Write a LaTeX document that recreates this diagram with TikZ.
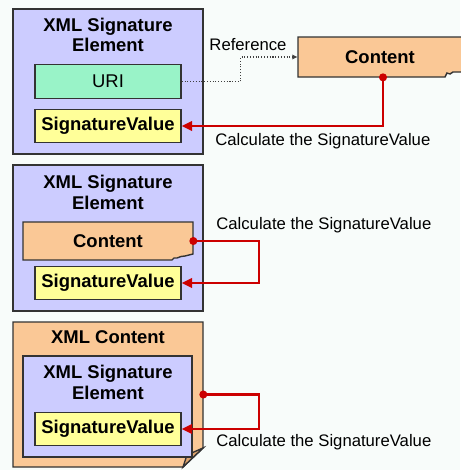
\documentclass[tikz,border=0pt]{standalone}
\usepackage{fontspec}
\setmainfont{Liberation Sans}
\usepackage{tikz}
\usetikzlibrary{arrows.meta, calc}
\definecolor{bgwhite}{RGB}{248,252,250}
\definecolor{sigblue}{RGB}{204,204,255}
\definecolor{urigreen}{RGB}{153,243,200}
\definecolor{svyellow}{RGB}{255,255,153}
\definecolor{contorange}{RGB}{250,200,150}
\definecolor{foldorange}{RGB}{222,165,110}
\definecolor{calcred}{RGB}{204,0,0}

\begin{document}
\begin{tikzpicture}[
  x=0.02cm, y=-0.02cm,
  panel/.style  = {draw=black!80, fill=sigblue, line width=0.8pt,
                   minimum width=3.8cm, minimum height=2.9cm, inner sep=0pt},
  box/.style    = {draw=black!80, line width=0.8pt, minimum width=2.92cm,
                   minimum height=0.67cm, inner sep=0pt,
                   font=\fontsize{10.5}{12}\selectfont},
  svbox/.style  = {box, fill=svyellow, font=\fontsize{10.5}{12}\selectfont\bfseries},
  ttl/.style    = {font=\fontsize{10.5}{11.5}\selectfont\bfseries, align=center,
                   inner sep=0pt},
  note/.style   = {font=\fontsize{9.5}{11}\selectfont, anchor=west, inner sep=0pt},
  sigarr/.style = {draw=calcred, line width=1.2pt,
                   -{Triangle[length=6pt,width=5.5pt]}},
  dot/.style    = {fill=calcred},
  ref/.style    = {densely dotted, draw=black!75, line width=0.6pt,
                   -{Latex[length=3pt,width=3pt]}},
  paper/.style  = {draw=black!80, fill=contorange, line width=0.8pt}
]
\fill[bgwhite] (0,0) rectangle (460,470);
\useasboundingbox (0,0) rectangle (460,470);

% panel 1: detached
\node[panel] (sig1) at (108,81.5) {};
\node[ttl] (t1) at (108,35) {XML Signature\\Element};
\node[box, fill=urigreen] (uri) at (108,81.5) {URI};
\node[svbox] (sv1) at (108,126) {SignatureValue};
\draw[paper] (298,37) -- (470,37) -- (470,72) -- (453,72) -- (450,74)
  -- (447,73) -- (445,77) -- (298,77) -- cycle;
\node[ttl, minimum width=3.28cm, minimum height=0.8cm] (c1) at (380,57) {Content};
\coordinate (c1dot) at ($(c1.south)+(3,0)$);
\node[note, anchor=center] (reflbl) at (248,45) {Reference};
\draw[ref] (uri.east) -- ++(59,0) |- (c1.west);
\draw[sigarr] (c1dot) |- (sv1.east);
\fill[dot] (c1dot) circle (2.3pt);
\node[note] (lbl1) at (215,141) {Calculate the SignatureValue};

% panel 2: enveloping
\node[panel, minimum height=2.92cm] (sig2) at (108,238) {};
\node[ttl] (t2) at (108,192.5) {XML Signature\\Element};
\draw[paper] (23,222) -- (193,222) -- (193,254) -- (189,255) -- (185,256)
  -- (181,256.5) -- (177,258) -- (174,258) -- (172,260) -- (23,260) -- cycle;
\node[ttl, minimum width=3.4cm, minimum height=0.76cm] (c2) at (108,241) {Content};
\node[svbox] (sv2) at (108,283) {SignatureValue};
\draw[sigarr] (c2.east) -- ++(66,0) |- (sv2.east);
\fill[dot] (c2.east) circle (2.3pt);
\node[note] (lbl2) at (216,225) {Calculate the SignatureValue};

% panel 3: enveloped
\draw[paper] (13,322) -- (203,322) -- (203,448) -- (183,467) -- (13,467) -- cycle;
\draw[paper, fill=foldorange] (203,448) -- (187,455) -- (183,467) -- cycle;
\node[inner sep=0pt, minimum width=3.8cm, minimum height=2.9cm] (xc) at (108,394.5) {};
\node[ttl] (t3) at (108,337) {XML Content};
\node[panel, minimum width=3.38cm, minimum height=2.02cm] (sig3) at (107.5,406.5) {};
\node[ttl] (t4) at (108,382.5) {XML Signature\\Element};
\node[svbox] (sv3) at (108,429) {SignatureValue};
\draw[sigarr] (xc.east) -- ++(56,0) |- (sv3.east);
\fill[dot] (xc.east) circle (2.3pt);
\node[note] (lbl3) at (216,442) {Calculate the SignatureValue};
\end{tikzpicture}
\end{document}
